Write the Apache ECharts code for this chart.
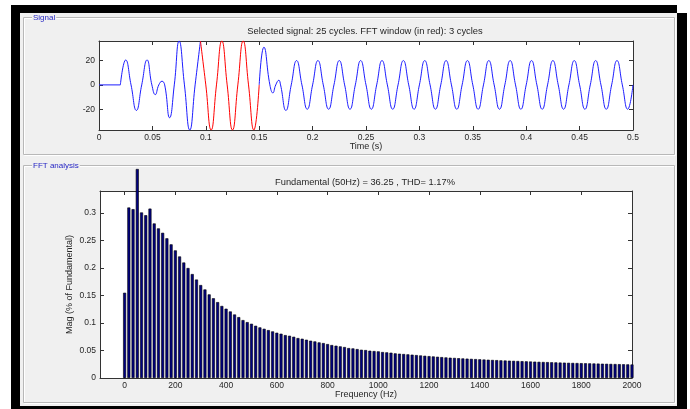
<!DOCTYPE html>
<html><head><meta charset="utf-8">
<script src="https://cdn.jsdelivr.net/npm/echarts@6/dist/echarts.min.js"></script>
<style>
html,body{margin:0;padding:0;background:#fff;}
#wrap{position:relative;width:690px;height:409px;overflow:hidden;background:#fff;}
.f{position:absolute;}
#chart{position:absolute;left:0;top:0;width:690px;height:409px;}
</style></head><body>
<div id="wrap">
<div class="f" style="left:11px;top:5px;width:666px;height:404px;background:#000"></div>
<div class="f" style="left:677px;top:13px;width:10px;height:396px;background:#000"></div>
<div class="f" style="left:20px;top:13px;width:657px;height:393px;background:#f0f0f0"></div>
<div id="chart"></div>
</div>
<script>
// ---- tick labels ----
const timeTicks = [0, 0.05, 0.1, 0.15, 0.2, 0.25, 0.3, 0.35, 0.4, 0.45, 0.5];
const sigTicks = [-20, 0, 20];
const freqTicks = [0, 200, 400, 600, 800, 1000, 1200, 1400, 1600, 1800, 2000];
const magTicks = [0, 0.05, 0.1, 0.15, 0.2, 0.25, 0.3];

// ---- signal (time in s, value) ----
const flatT = [0, 0.02];
const flatV = [0, 0];
const sigT = [
  0.02, 0.025, 0.03, 0.035, 0.04, 0.045, 0.0495, 0.0527, 0.056, 0.059, 0.0615, 0.0661, 0.0705,
  0.075, 0.08, 0.085, 0.09, 0.095, 0.1, 0.105, 0.11, 0.115, 0.12, 0.125, 0.13, 0.135, 0.14, 0.145, 0.15,
  0.1544, 0.16, 0.1628, 0.1655, 0.1684, 0.17, 0.175,
  0.18, 0.185, 0.19, 0.195, 0.2, 0.205, 0.21, 0.215, 0.22, 0.225, 0.23, 0.235,
  0.24, 0.245, 0.25, 0.255, 0.26, 0.265, 0.27, 0.275, 0.28, 0.285, 0.29, 0.295,
  0.3, 0.305, 0.31, 0.315, 0.32, 0.325, 0.33, 0.335, 0.34, 0.345, 0.35, 0.355,
  0.36, 0.365, 0.37, 0.375, 0.38, 0.385, 0.39, 0.395, 0.4, 0.405, 0.41, 0.415,
  0.42, 0.425, 0.43, 0.435, 0.44, 0.445, 0.45, 0.455, 0.46, 0.465, 0.47, 0.475,
  0.48, 0.485, 0.49, 0.495, 0.5
];
const sigV = [
  0, 20.5, 0, -21, 0, 20.5, 0, -8, 0, 3, 0, -27, 0,
  36.1, 0, -37.1, 0, 36.1, 0, -37.1, 0, 36.1, 0, -37.1, 0, 36.1, 0, -37.1, 0,
  31, 0, -6.6, 0, 3.8, 0, -21,
  0, 20, 0, -20, 0, 20, 0, -20, 0, 20, 0, -20,
  0, 20, 0, -20, 0, 20, 0, -20, 0, 20, 0, -20,
  0, 20, 0, -20, 0, 20, 0, -20, 0, 20, 0, -20,
  0, 20, 0, -20, 0, 20, 0, -20, 0, 20, 0, -20,
  0, 20, 0, -20, 0, 20, 0, -20, 0, 20, 0, -20,
  0, 20, 0, -20, 0
];
const windowStart = 0.095;
const windowEnd = 0.15;

// ---- FFT magnitudes (% of fundamental), bins of 50/3 Hz ----
const binHz = 50 / 3;
const magValues = [
  0.155, 0.310, 0.307, 0.380, 0.301, 0.296, 0.308, 0.281, 0.272, 0.264, 0.254, 0.243, 0.232, 0.221,
  0.210, 0.200, 0.189, 0.179, 0.169, 0.161, 0.152, 0.145, 0.138, 0.131, 0.126, 0.121, 0.1155, 0.1107,
  0.1053, 0.1016, 0.0986, 0.095, 0.092, 0.0895, 0.0871, 0.0847, 0.0823, 0.0805, 0.078, 0.0768, 0.075,
  0.0726, 0.0714, 0.0696, 0.0678, 0.0665, 0.0647, 0.0635, 0.0617, 0.0599, 0.0587, 0.0575, 0.0563,
  0.0544, 0.0538, 0.0526, 0.0514, 0.0508, 0.0496, 0.049, 0.0484, 0.0472, 0.0466, 0.046, 0.0448,
  0.0442, 0.0436, 0.043, 0.0424, 0.0417,
  0.041, 0.0404, 0.0398, 0.0392, 0.0386, 0.038, 0.0374, 0.0369, 0.0365, 0.036, 0.0356, 0.0352,
  0.0348, 0.0344, 0.034, 0.0336, 0.0332, 0.0328, 0.0325, 0.0321, 0.0318, 0.0315, 0.0312, 0.0309,
  0.0306, 0.0303, 0.03, 0.0297, 0.0294, 0.0291, 0.0289, 0.0286, 0.0284, 0.0281, 0.0279, 0.0276,
  0.0274, 0.0272, 0.027, 0.0268, 0.0266, 0.0264, 0.0262, 0.026, 0.0258, 0.0256, 0.0254, 0.0252,
  0.025, 0.0248, 0.0246
];

const titleTop = 'Selected signal: 25 cycles. FFT window (in red): 3 cycles';
const titleBottom = 'Fundamental (50Hz) = 36.25 , THD= 1.17%';

const FONT = '"Liberation Sans", Arial, sans-serif';
const axisColor = '#333333';
const textColor = '#262626';
const blue = '#1c1cff';
const red = '#ff0000';

const sigData = sigT.map((t, i) => [t, sigV[i]]);
const flatData = flatT.map((t, i) => [t, flatV[i]]);
const blueBefore = sigData.filter(p => p[0] <= windowStart);
const blueAfter = sigData.filter(p => p[0] >= windowEnd);
const redData = sigData.filter(p => p[0] >= windowStart && p[0] <= windowEnd);
const barData = magValues.map((v, i) => [i * binHz, v]);

const plainNum = v => String(v);

function xAx(grid, min, max, ticks, pos, name) {
  const main = pos === 'bottom';
  return {
    gridIndex: grid, type: 'value', min: min, max: max, position: pos,
    axisLine: {show: true, onZero: false, lineStyle: {color: axisColor, width: 1}},
    axisTick: {show: true, inside: true, length: 4, customValues: ticks, lineStyle: {color: axisColor}},
    axisLabel: {show: main, customValues: ticks, formatter: plainNum, margin: 3, color: textColor, fontSize: 8.5, fontFamily: FONT, hideOverlap: false},
    splitLine: {show: false},
    name: main ? name : '', nameLocation: 'middle', nameGap: 12, nameMoveOverlap: false,
    nameTextStyle: {color: textColor, fontSize: 9, fontFamily: FONT}
  };
}
function yAx(grid, min, max, ticks, pos, name) {
  const main = pos === 'left';
  return {
    gridIndex: grid, type: 'value', min: min, max: max, position: pos,
    axisLine: {show: true, onZero: false, lineStyle: {color: axisColor, width: 1}},
    axisTick: {show: true, inside: true, length: 4, customValues: ticks, lineStyle: {color: axisColor}},
    axisLabel: {show: main, customValues: ticks, formatter: plainNum, margin: 4, color: textColor, fontSize: 8.5, fontFamily: FONT, hideOverlap: false},
    splitLine: {show: false},
    name: main ? name : '', nameLocation: 'middle', nameGap: 26, nameRotate: 90, nameMoveOverlap: false,
    nameTextStyle: {color: textColor, fontSize: 9, fontFamily: FONT}
  };
}

function lineSeries(data, color, smooth) {
  return {type: 'line', xAxisIndex: 0, yAxisIndex: 0, data: data, showSymbol: false, smooth: smooth,
    lineStyle: {color: color, width: 1}, itemStyle: {color: color}, silent: true};
}

const chart = echarts.init(document.getElementById('chart'), null, {renderer: 'canvas'});
const option = {
  animation: false,
  backgroundColor: 'transparent',
  grid: [
    {left: 99, top: 41, width: 534, height: 89, show: true, backgroundColor: '#fff', borderWidth: 0, containLabel: false, outerBoundsMode: 'none'},
    {left: 100, top: 191, width: 532, height: 187, show: true, backgroundColor: '#fff', borderWidth: 0, containLabel: false, outerBoundsMode: 'none'}
  ],
  xAxis: [
    xAx(0, 0, 0.5, timeTicks, 'bottom', 'Time (s)'),
    xAx(0, 0, 0.5, timeTicks, 'top', ''),
    xAx(1, -97, 2000, freqTicks, 'bottom', 'Frequency (Hz)'),
    xAx(1, -97, 2000, freqTicks, 'top', '')
  ],
  yAxis: [
    yAx(0, -37.1, 36.1, sigTicks, 'left', ''),
    yAx(0, -37.1, 36.1, sigTicks, 'right', ''),
    yAx(1, 0, 0.34, magTicks, 'left', 'Mag (% of Fundamental)'),
    yAx(1, 0, 0.34, magTicks, 'right', '')
  ],
  graphic: [
    {type: 'rect', silent: true, shape: {x: 24.5, y: 18.5, width: 651, height: 137}, style: {fill: 'none', stroke: '#ffffff', lineWidth: 1}},
    {type: 'rect', silent: true, shape: {x: 23.5, y: 17.5, width: 651, height: 137}, style: {fill: 'none', stroke: '#b8b8b8', lineWidth: 1}},
    {type: 'rect', silent: true, shape: {x: 24.5, y: 166.5, width: 651, height: 237}, style: {fill: 'none', stroke: '#ffffff', lineWidth: 1}},
    {type: 'rect', silent: true, shape: {x: 23.5, y: 165.5, width: 651, height: 237}, style: {fill: 'none', stroke: '#b8b8b8', lineWidth: 1}},
    {type: 'text', silent: true, x: 32, y: 17.5, style: {text: 'Signal', fill: '#2626c4', font: '8px ' + FONT, backgroundColor: '#f0f0f0', padding: [0, 1], verticalAlign: 'middle'}},
    {type: 'text', silent: true, x: 32, y: 165.5, style: {text: 'FFT analysis', fill: '#2626c4', font: '8px ' + FONT, backgroundColor: '#f0f0f0', padding: [0, 1], verticalAlign: 'middle'}},
    {type: 'text', silent: true, x: 365, y: 31.5, style: {text: titleTop, fill: textColor, font: '9.4px ' + FONT, align: 'center', verticalAlign: 'middle'}},
    {type: 'text', silent: true, x: 365, y: 182.5, style: {text: titleBottom, fill: textColor, font: '9.3px ' + FONT, align: 'center', verticalAlign: 'middle'}}
  ],
  series: [
    lineSeries(flatData, blue, false),
    lineSeries(blueBefore, blue, 0.5),
    lineSeries(blueAfter, blue, 0.5),
    lineSeries(redData, red, 0.5),
    {type: 'bar', xAxisIndex: 2, yAxisIndex: 2, data: barData, barWidth: 3, clip: false, silent: true,
     itemStyle: {color: '#000080', borderColor: '#000000', borderWidth: 0.6}}
  ]
};
chart.setOption(option);
</script>
</body></html>
